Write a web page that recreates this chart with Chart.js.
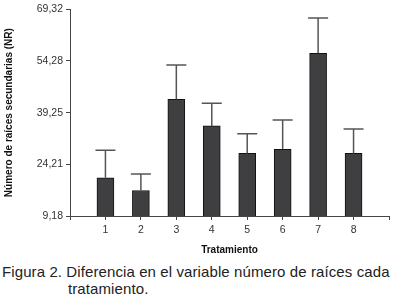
<!DOCTYPE html>
<html>
<head>
<meta charset="utf-8">
<script src="https://cdn.jsdelivr.net/npm/chart.js@4"></script>
<style>
  html, body { margin: 0; padding: 0; background: #fff; }
  #wrap { position: relative; width: 393px; height: 297px; overflow: hidden; }
  #box { position: absolute; left: 0; top: 0; width: 393px; height: 258px; }
  .cap { position: absolute; font-family: "Liberation Sans", Arial, sans-serif; font-size: 15px; letter-spacing: 0.1px; color: #222; white-space: nowrap; line-height: 17px; }
</style>
</head>
<body>
<div id="wrap">
  <div id="box"><canvas id="c"></canvas></div>
  <div class="cap" style="left:2px; top:263px;">Figura 2. Diferencia en el variable número de raíces cada</div>
  <div class="cap" style="left:68px; top:280px;">tratamiento.</div>
</div>
<script>
// Categories (blank slots at both ends of the axis)
const categories = ['', '1', '2', '3', '4', '5', '6', '7', '8', ''];
// Mean number of secondary roots per treatment
const means = [null, 20.3, 16.6, 43.1, 35.4, 27.4, 28.6, 56.5, 27.4, null];
// Upper error (standard deviation) per treatment
const errors = [null, 8.0, 4.8, 10.0, 6.6, 5.7, 8.5, 10.3, 7.1, null];
// Y tick values and labels
const yTickValues = [9.18, 24.21, 39.25, 54.28, 69.32];
const yTickLabels = ['9,18', '24,21', '39,25', '54,28', '69,32'];

const FONT = '"Liberation Sans", Arial, sans-serif';

const errorBarPlugin = {
  id: 'errorBars',
  afterDatasetsDraw(chart) {
    const ctx = chart.ctx;
    const xs = chart.scales.x, ys = chart.scales.y;
    ctx.save();
    ctx.strokeStyle = '#555';
    ctx.lineWidth = 1.5;
    for (let i = 0; i < means.length; i++) {
      if (means[i] == null || errors[i] == null) continue;
      const x = xs.getPixelForValue(i);
      const y0 = ys.getPixelForValue(means[i]);
      const y1 = ys.getPixelForValue(means[i] + errors[i]);
      ctx.beginPath();
      ctx.moveTo(x, y0);
      ctx.lineTo(x, y1);
      ctx.moveTo(x - 10, y1);
      ctx.lineTo(x + 10, y1);
      ctx.stroke();
    }
    ctx.restore();
  }
};

new Chart(document.getElementById('c'), {
  type: 'bar',
  data: {
    labels: categories,
    datasets: [{
      data: means,
      backgroundColor: '#3f3f41',
      borderColor: '#111',
      borderWidth: 1,
      barThickness: 17,
      borderSkipped: false
    }]
  },
  options: {
    responsive: true,
    maintainAspectRatio: false,
    animation: false,
    events: [],
    layout: { padding: { top: 5, right: 4, left: 0, bottom: 0 } },
    plugins: { legend: { display: false }, tooltip: { enabled: false } },
    scales: {
      x: {
        offset: false,
        grid: { display: true, drawOnChartArea: false, drawTicks: true, tickLength: 4, color: '#444', offset: false },
        border: { display: true, color: '#444', width: 1 },
        ticks: { color: '#333', font: { family: FONT, size: 10.5 }, padding: 4, autoSkip: false, maxRotation: 0 },
        title: { display: true, text: 'Tratamiento', color: '#111', font: { family: FONT, size: 10, weight: 'bold' }, padding: { top: 0, bottom: 2 } },
        afterFit(s) { s.height = 42; }
      },
      y: {
        min: 9.18,
        max: 69.32,
        afterBuildTicks(s) { s.ticks = yTickValues.map(v => ({ value: v })); },
        grid: { display: true, drawOnChartArea: false, drawTicks: true, tickLength: 4, color: '#444' },
        border: { display: true, color: '#444', width: 1 },
        ticks: {
          color: '#333', font: { family: FONT, size: 10.5 }, padding: 3,
          callback(v) { const i = yTickValues.indexOf(v); return i >= 0 ? yTickLabels[i] : ''; }
        },
        title: { display: true, text: 'Número de raíces secundarias (NR)', color: '#111', font: { family: FONT, size: 10, weight: 'bold' }, padding: { top: 3, bottom: 0 } },
        afterFit(s) { s.width = 70; }
      }
    }
  },
  plugins: [errorBarPlugin]
});
</script>
</body>
</html>
